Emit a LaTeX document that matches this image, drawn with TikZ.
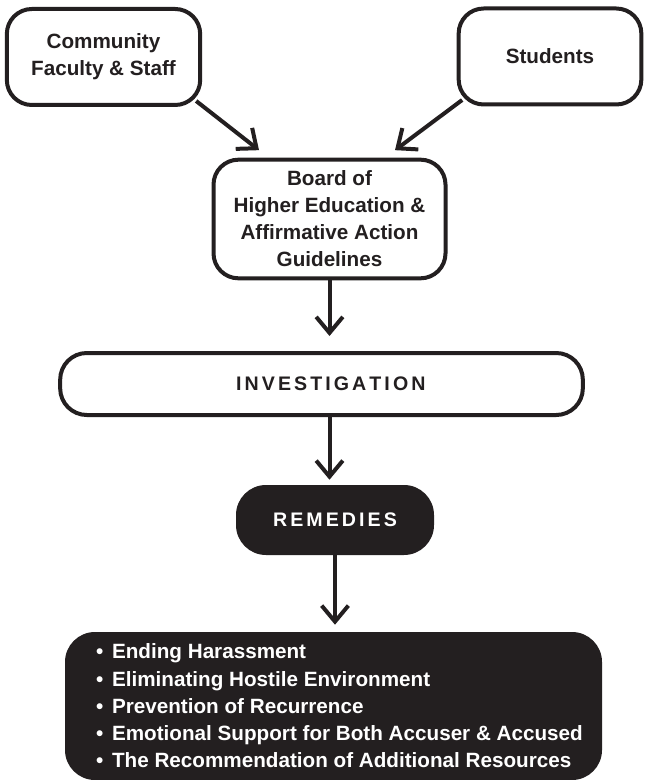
\documentclass[tikz,border=0pt]{standalone}
\usepackage{fontspec}
\setmainfont{Liberation Sans}
\usetikzlibrary{arrows.meta,calc}
\definecolor{ink}{HTML}{231F20}
\newcommand\tk{\kern2.3pt}
\newcommand\bul{\hspace*{9pt}•\hspace{6.5pt}}
\begin{document}
\begin{tikzpicture}[x=0.75pt,y=-0.75pt,
  wbox/.style={draw=ink,line width=3pt,fill=white,align=center,inner sep=0pt,
    font=\fontsize{15.5}{20.25}\selectfont\bfseries,text=ink},
  bbox/.style={fill=ink,draw=none,inner sep=0pt,text=white},
  arr/.style={draw=ink,line width=3pt,-{Straight Barb[length=12pt,width=20pt]}}]
\useasboundingbox (0,0) rectangle (645,780);
\node[wbox,minimum width=145pt,minimum height=72pt,rounded corners=18.75pt] (comm) at (103.5,57) {Community\\Faculty \& Staff};
\node[wbox,minimum width=137pt,minimum height=72pt,rounded corners=18.75pt] (stud) at (550,56.5) {Students};
\node[wbox,minimum width=174pt,minimum height=89pt,rounded corners=18.75pt] (board) at (329.5,219) {Board of\\Higher Education \&\\Affirmative Action\\Guidelines};
\node[wbox,minimum width=392pt,minimum height=46.5pt,rounded corners=20pt,font=\fontsize{14.7}{18}\selectfont\bfseries] (inv) at (321.5,384) {\hspace*{14pt}I\tk N\tk V\tk E\tk S\tk T\tk I\tk G\tk A\tk T\tk I\tk O\tk N};
\node[bbox,minimum width=148.5pt,minimum height=52.5pt,rounded corners=22.5pt,font=\fontsize{14.7}{18}\selectfont\bfseries] (rem) at (335,520) {R\tk E\tk M\tk E\tk D\tk I\tk E\tk S};
\node[bbox,minimum width=402.75pt,minimum height=111pt,rounded corners=22.5pt,align=left,font=\fontsize{15.5}{20.4}\selectfont\bfseries] (res) at (333.5,706) {\bul Ending Harassment\\\bul Eliminating Hostile Environment\\\bul Prevention of Recurrence\\\bul Emotional Support for Both Accuser \& Accused\\\bul The Recommendation of Additional Resources};
\coordinate (s1) at ($(comm.south east)+(-6,-6)$);
\coordinate (e1) at ($(board.north)+(-70.5,-7.5)$);
\coordinate (s2) at ($(stud.south west)+(5.5,-6.5)$);
\coordinate (e2) at ($(board.north)+(65.5,-7.5)$);
\draw[arr] (s1) -- (e1);
\draw[arr] (s2) -- (e2);
\draw[arr] (board.south) -- ($(inv.north -| board.south)+(0,-15)$);
\draw[arr] (inv.south -| board.south) -- ($(rem.north -| board.south)+(0,-5)$);
\draw[arr] (rem.south) -- ($(res.north -| rem.south)+(0,-7)$);
\end{tikzpicture}
\end{document}
